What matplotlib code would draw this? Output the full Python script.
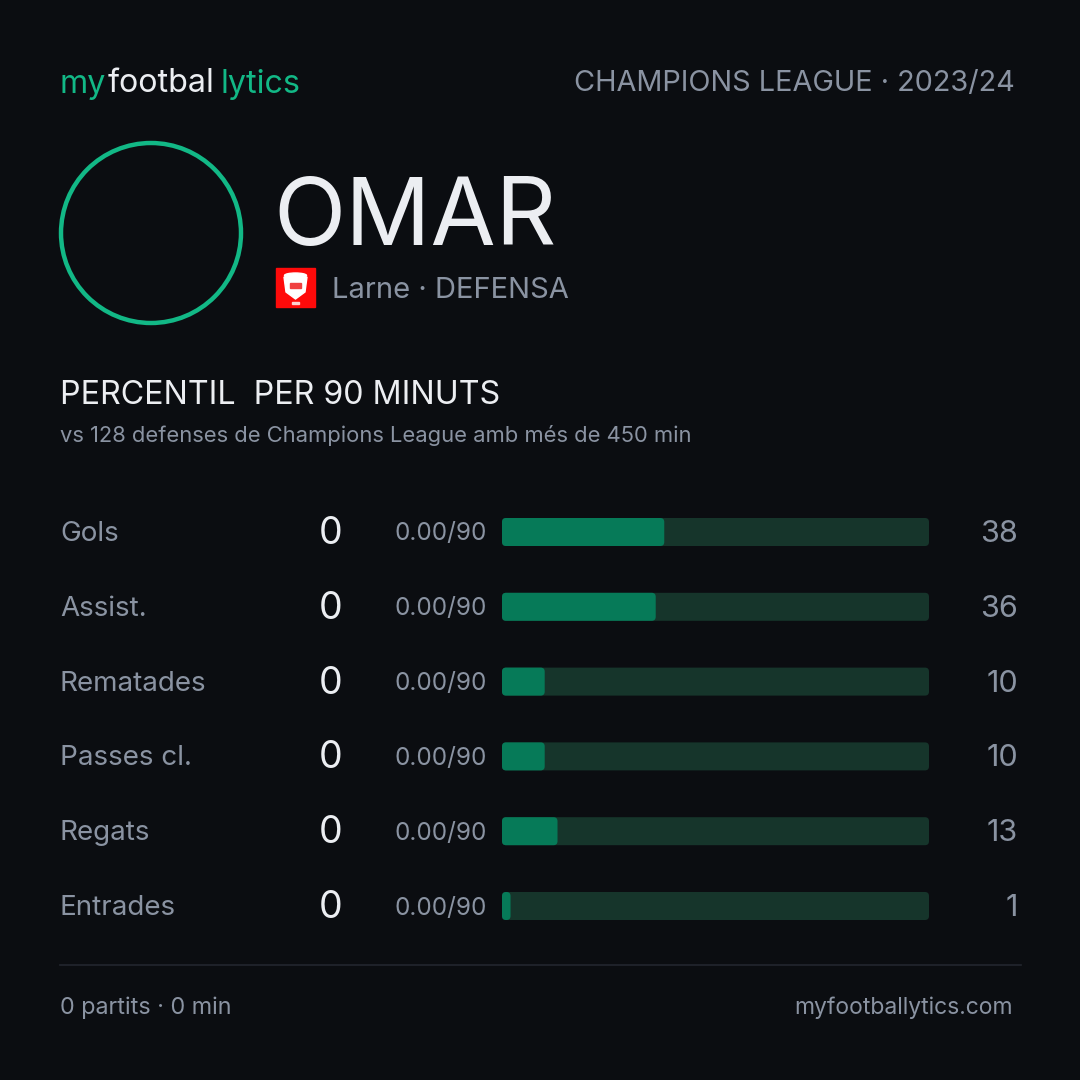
import numpy as np
import matplotlib.pyplot as plt
from matplotlib.patches import FancyBboxPatch, Circle, Rectangle, Polygon, Ellipse

plt.rcParams["font.family"] = ["Inter", "DejaVu Sans"]

# Data
competition = "CHAMPIONS LEAGUE · 2023/24"
player = "OMAR"
team_line = "Larne · DEFENSA"
section_title = "PERCENTIL  PER 90 MINUTS"
section_sub = "vs 128 defenses de Champions League amb més de 450 min"
metrics = ["Gols", "Assist.", "Rematades", "Passes cl.", "Regats", "Entrades"]
totals = [0, 0, 0, 0, 0, 0]
per90 = [0.00, 0.00, 0.00, 0.00, 0.00, 0.00]
percentiles = [38, 36, 10, 10, 13, 1]
footer_left = "0 partits · 0 min"
footer_right = "myfootballytics.com"

# Colours
BG = "#0b0d11"
GREEN = "#12b886"
WHITE = "#eceef2"
GREY = "#8a93a2"
FILL = "#067a58"
TRACK = "#16352b"
LINE = "#22262e"

W = H = 1080
fig = plt.figure(figsize=(10.8, 10.8), dpi=100, facecolor=BG)
ax = fig.add_axes([0, 0, 1, 1])
ax.set_xlim(0, W)
ax.set_ylim(H, 0)
ax.axis("off")
ax.set_facecolor(BG)
renderer = fig.canvas.get_renderer()


def text_width(t):
    return t.get_window_extent(renderer=renderer).width


# Header logo
x = 60
for part, col in [("my", GREEN), ("footbal", WHITE), ("lytics", GREEN)]:
    t = ax.text(x, 84, part, color=col, fontsize=23.2, va="center", ha="left")
    x += text_width(t) + (1 if part == "my" else 6)

ax.text(1015, 83, competition, color=GREY, fontsize=20.8, va="center", ha="right")

# Avatar ring
ax.add_patch(Circle((151, 233), 90, fill=False, ec=GREEN, lw=3.2))

ax.text(273, 220, player, color=WHITE, fontsize=68, va="center", ha="left")

# Club badge
ax.add_patch(Rectangle((276, 268), 39, 39, color="#ff0a0a"))
ax.add_patch(Polygon([[284, 277], [307, 277], [305, 292], [295.5, 299], [286, 292]],
                     closed=True, color="white"))
ax.add_patch(Ellipse((295.5, 275.5), 22, 5, color="white"))
ax.add_patch(Rectangle((290, 283), 11, 5, color="#f04040"))
ax.add_patch(Rectangle((292, 302), 7, 1.5, color="#ffd0d0"))
ax.text(332, 290, team_line, color=GREY, fontsize=21, va="center", ha="left")

# Section title
ax.text(60, 396, section_title, color=WHITE, fontsize=23.2, va="center", ha="left")
ax.text(60, 436, section_sub, color=GREY, fontsize=15.8, va="center", ha="left")

# Bars
bx0, bx1 = 502, 929
pitch = 74.8
y_first = 532
n = len(metrics)
top = y_first - pitch / 2
bottom = y_first + pitch * (n - 0.5)
bax = fig.add_axes([bx0 / W, 1 - bottom / H, (bx1 - bx0) / W, (bottom - top) / H])
bax.set_xlim(0, 100)
bax.set_ylim(n - 0.5, -0.5)
bax.axis("off")


def ax_x(px):
    return (px - bx0) / (bx1 - bx0)


bar_h = 28 / pitch
xu = (bx1 - bx0) / 100
rad = 4 / xu
aspect = (4 / pitch) / rad
dy = 2 / pitch
tr = bax.get_yaxis_transform()
for i, (m, tot, p90, pct) in enumerate(zip(metrics, totals, per90, percentiles)):
    bax.add_patch(FancyBboxPatch((0, i - bar_h / 2), 100, bar_h,
                                 boxstyle=f"round,pad=0,rounding_size={rad}",
                                 mutation_aspect=aspect, fc=TRACK, ec="none"))
    bax.add_patch(FancyBboxPatch((0, i - bar_h / 2), max(pct, 2), bar_h,
                                 boxstyle=f"round,pad=0,rounding_size={rad}",
                                 mutation_aspect=aspect, fc=FILL, ec="none"))
    bax.text(ax_x(60), i + dy, m, transform=tr, color=GREY, fontsize=20,
             va="center", ha="left", clip_on=False)
    bax.text(ax_x(331), i + dy, f"{tot}", transform=tr, color=WHITE, fontsize=27,
             va="center", ha="center", clip_on=False)
    bax.text(ax_x(487), i + dy, f"{p90:.2f}/90", transform=tr, color=GREY, fontsize=17.5,
             va="center", ha="right", clip_on=False)
    bax.text(ax_x(1018), i + dy, f"{pct}", transform=tr, color=GREY, fontsize=22,
             va="center", ha="right", clip_on=False)

# Footer
ax.plot([60, 1021], [965, 965], color=LINE, lw=1.2)
ax.text(60, 1008, footer_left, color=GREY, fontsize=16.8, va="center", ha="left")
ax.text(1013, 1008, footer_right, color=GREY, fontsize=16.5, va="center", ha="right")

fig.savefig("out.png", dpi=100, facecolor=BG)
